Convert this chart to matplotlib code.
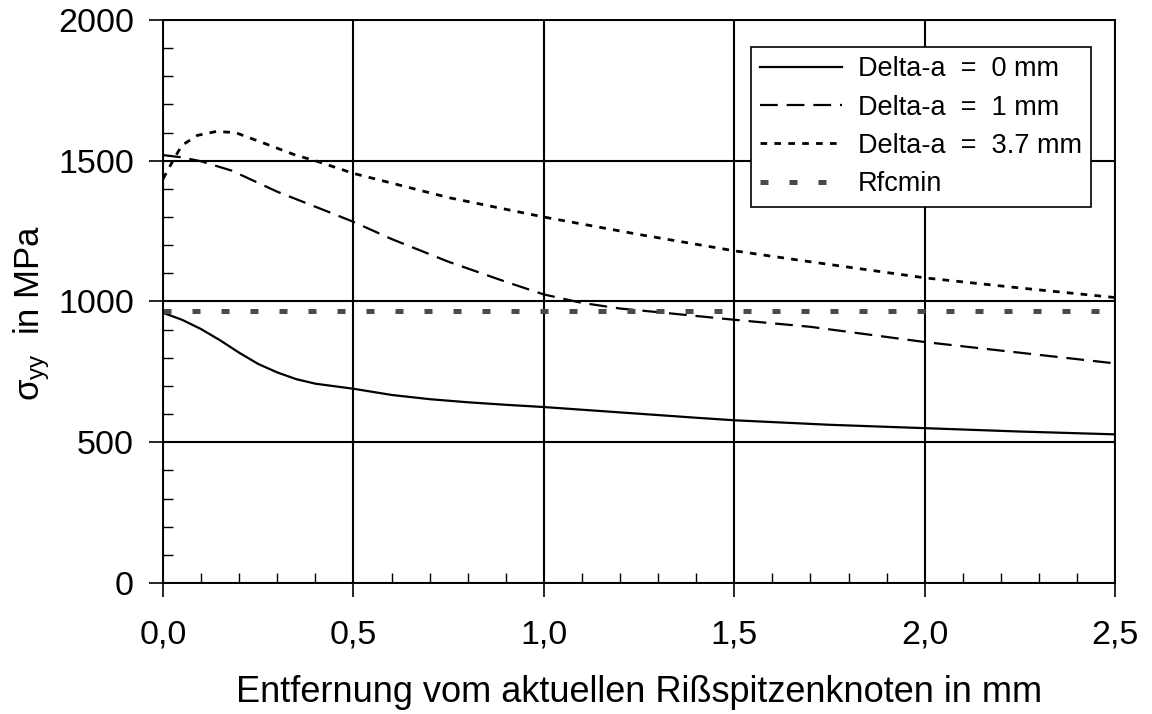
import matplotlib.pyplot as plt
from matplotlib.ticker import MultipleLocator

plt.rcParams['font.family'] = ['Liberation Sans', 'DejaVu Sans']
plt.rcParams['mathtext.fontset'] = 'custom'
plt.rcParams['mathtext.rm'] = 'Liberation Sans'
plt.rcParams['mathtext.it'] = 'Liberation Sans'

# Werte
x_0mm = [0.0, 0.05, 0.1, 0.15, 0.2, 0.25, 0.3, 0.35, 0.4, 0.5, 0.6, 0.7, 0.8,
         0.9, 1.0, 1.2, 1.4, 1.5, 1.75, 2.0, 2.25, 2.5]
s_0mm = [960, 935, 902, 862, 818, 778, 748, 724, 708, 690, 668, 653, 642,
         633, 625, 606, 587, 578, 562, 550, 538, 528]

x_1mm = [0.0, 0.05, 0.1, 0.18, 0.3, 0.42, 0.5, 0.6, 0.75, 0.9, 1.0, 1.1,
         1.2, 1.3, 1.5, 1.7, 2.0, 2.25, 2.5]
s_1mm = [1520, 1512, 1498, 1465, 1390, 1326, 1283, 1222, 1141, 1070, 1025,
         995, 975, 962, 935, 910, 856, 818, 780]

x_37mm = [0.0, 0.03, 0.05, 0.09, 0.14, 0.19, 0.25, 0.35, 0.4, 0.5, 0.75,
          1.0, 1.25, 1.5, 1.7, 2.0, 2.25, 2.5]
s_37mm = [1435, 1510, 1555, 1590, 1604, 1600, 1570, 1519, 1500, 1455, 1369,
          1300, 1238, 1180, 1141, 1084, 1048, 1014]

x_rf = [0.0, 2.5]
s_rf = [965, 965]

x_ticks = [0.0, 0.5, 1.0, 1.5, 2.0, 2.5]
x_tick_labels = ['0,0', '0,5', '1,0', '1,5', '2,0', '2,5']
y_ticks = [0, 500, 1000, 1500, 2000]

fig = plt.figure(figsize=(11.52, 7.14), dpi=100)
ax = fig.add_axes([0.1415, 0.1835, 0.8265, 0.7885])

ax.plot(x_0mm, s_0mm, color='black', lw=1.6, label='Delta-a  =  0 mm')
ax.plot(x_1mm, s_1mm, color='black', lw=1.6, linestyle=(0, (8, 4)),
        label='Delta-a  =  1 mm')
ax.plot(x_37mm, s_37mm, color='black', lw=2.0, linestyle=(0, (2.4, 2.6)),
        label='Delta-a  =  3.7 mm')
ax.plot(x_rf, s_rf, color='#4a4a4a', lw=3.6, linestyle=(0, (1.6, 4.2)),
        label='Rfcmin')

ax.set_xlim(0, 2.5)
ax.set_ylim(0, 2000)
ax.set_xticks(x_ticks)
ax.set_xticklabels(x_tick_labels)
ax.set_yticks(y_ticks)
ax.xaxis.set_minor_locator(MultipleLocator(0.1))
ax.yaxis.set_minor_locator(MultipleLocator(100))

ax.tick_params(which='major', direction='out', length=10, width=1.2,
               labelsize=24.5, color='black')
ax.tick_params(axis='x', which='major', pad=16)
ax.tick_params(axis='y', which='major', pad=11)
ax.tick_params(which='minor', direction='in', length=7, width=1.0)

ax.grid(True, which='major', color='black', lw=1.5)
for sp in ax.spines.values():
    sp.set_linewidth(1.4)

ax.set_xlabel('Entfernung vom aktuellen Rißspitzenknoten in mm',
              fontsize=26, labelpad=18)
ax.set_ylabel(r'$\sigma_{yy}$  in MPa', fontsize=25, labelpad=4)
ax.yaxis.label.set_y(0.48)

leg = ax.legend(loc='upper right', bbox_to_anchor=(0.975, 0.952),
                fontsize=19.5, frameon=True, fancybox=False, framealpha=1,
                edgecolor='black', handlelength=3.0, labelspacing=0.45,
                borderpad=0.35, handletextpad=0.6, borderaxespad=0)
leg.get_frame().set_linewidth(1.2)

fig.savefig('out.png', dpi=100)
